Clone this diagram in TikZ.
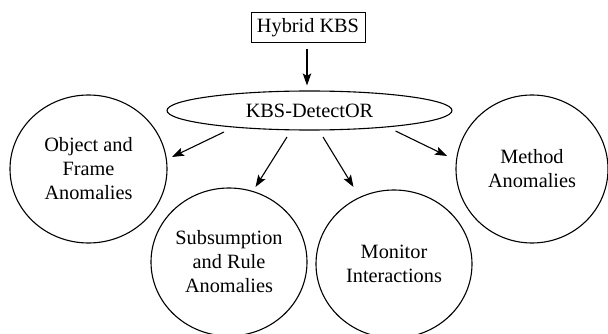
\documentclass[tikz,border=0pt]{standalone}
\usepackage{fontspec}
\setmainfont{Liberation Serif}
\usetikzlibrary{shapes.geometric,arrows.meta}
\begin{document}
\begin{tikzpicture}[x=1pt,y=-1pt,
  every node/.style={font=\fontsize{20.3}{24}\selectfont, align=center, inner sep=0pt},
  bubble/.style={draw, ellipse, line width=1.1pt, minimum width=156pt, minimum height=148pt},
  arr/.style={-{Stealth[length=12pt,width=8.5pt,inset=2.5pt]}, line width=1.1pt}]
\useasboundingbox (0,0) rectangle (608,334);
\clip (0,0) rectangle (608,334);
\node[draw, line width=1pt, minimum width=114pt, minimum height=30pt] (hyb) at (308,28) {Hybrid KBS};
\node[draw, ellipse, line width=1.1pt, minimum width=285pt, minimum height=39pt] (e) at (309.5,110.5) {KBS-DetectOR};
\node[bubble, minimum width=157pt] (obj) at (88.5,169) {Object and\\Frame\\Anomalies};
\node[bubble] (sub) at (229,262) {Subsumption\\and Rule\\Anomalies};
\node[bubble] (mon) at (394,264) {Monitor\\Interactions};
\node[bubble, minimum width=152pt] (met) at (532,169) {Method\\Anomalies};
\draw[arr] ([shift={(-1,6)}]hyb.south) -- ([shift={(-2.5,-5)}]e.north);
\draw[arr] ([shift={(-85.5,21.5)}]e.center) -- ([shift={(83.5,-12)}]obj.center);
\draw[arr] ([shift={(-22.5,26.5)}]e.center) -- ([shift={(26.5,-75)}]sub.center);
\draw[arr] ([shift={(13.5,26.5)}]e.center) -- ([shift={(-40.5,-77)}]mon.center);
\draw[arr] ([shift={(86,20.5)}]e.center) -- ([shift={(-85,-13)}]met.center);
\end{tikzpicture}
\end{document}
